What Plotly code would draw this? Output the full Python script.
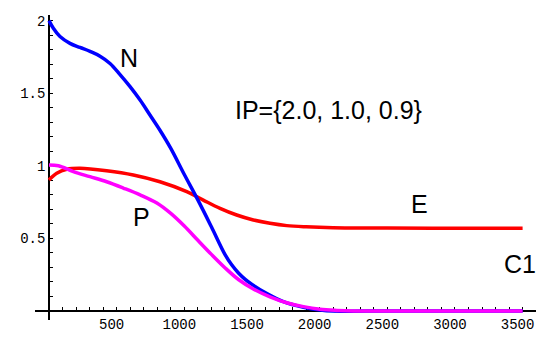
import plotly.graph_objects as go

# ---- data ----
x_N = [0, 32, 81, 155, 229, 303, 377, 451, 525, 599, 673, 746, 820, 900, 1000, 1100, 1200, 1300, 1350, 1400, 1450, 1500, 1600, 1732, 1880, 2003, 2100, 2500, 3000, 3500]
N_vals = [2.0, 1.947, 1.89, 1.843, 1.815, 1.788, 1.755, 1.705, 1.628, 1.545, 1.453, 1.35, 1.245, 1.12, 0.94, 0.765, 0.58, 0.39, 0.318, 0.262, 0.218, 0.183, 0.125, 0.064, 0.025, 0.007, 0.0, 0.0, 0.0, 0.0]

x_P = [0, 70, 180, 303, 426, 549, 673, 800, 900, 1000, 1100, 1200, 1300, 1400, 1510, 1633, 1757, 1880, 2003, 2126, 2250, 2500, 3000, 3500]
P_vals = [1.006, 1.0, 0.96, 0.925, 0.89, 0.847, 0.80, 0.742, 0.672, 0.585, 0.487, 0.39, 0.298, 0.217, 0.152, 0.098, 0.057, 0.03, 0.012, 0.004, 0.0, 0.0, 0.0, 0.0]

x_E = [0, 57, 131, 229, 426, 623, 820, 1018, 1140, 1264, 1387, 1510, 1633, 1757, 1900, 2100, 2500, 3000, 3500]
E_vals = [0.902, 0.948, 0.976, 0.983, 0.966, 0.937, 0.89, 0.822, 0.764, 0.707, 0.661, 0.627, 0.604, 0.588, 0.58, 0.574, 0.571, 0.57, 0.57]

x_tick_vals = [500, 1000, 1500, 2000, 2500, 3000, 3500]
x_tick_text = ["500", "1000", "1500", "2000", "2500", "3000", "3500"]
y_tick_vals = [0.5, 1.0, 1.5, 2.0]
y_tick_text = ["0.5", "1", "1.5", "2"]
x_minor = list(range(100, 3600, 100))
y_minor = [round(0.1 * i, 1) for i in range(1, 21)]

labels = ["N", "IP={2.0, 1.0, 0.9}", "P", "E", "C1"]
label_x = [593, 2069, 680, 2735, 3481]
label_y = [1.745, 1.384, 0.645, 0.737, 0.324]

fig = go.Figure()
line_common = dict(width=3.5, shape="spline", smoothing=1.0)
fig.add_trace(go.Scatter(x=x_E, y=E_vals, mode="lines", line=dict(color="#ff0000", **line_common)))
fig.add_trace(go.Scatter(x=x_N, y=N_vals, mode="lines", line=dict(color="#0000ff", **line_common)))
fig.add_trace(go.Scatter(x=x_P, y=P_vals, mode="lines", line=dict(color="#ff00ff", **line_common)))

for t, xv, yv in zip(labels, label_x, label_y):
    fig.add_annotation(x=xv, y=yv, text=t, showarrow=False,
                       font=dict(family="Liberation Sans", size=25, color="black"))

tickfont = dict(family="Liberation Mono", size=14, color="black")

fig.update_layout(
    width=536, height=338,
    margin=dict(l=35, r=0, t=15, b=18, autoexpand=False),
    paper_bgcolor="white", plot_bgcolor="white",
    showlegend=False,
    xaxis=dict(range=[-103.5, 3599], showgrid=False, zeroline=False, automargin=False,
               showline=True, linecolor="black", linewidth=1.5,
               anchor="free", position=0.0295, layer="below traces",
               tickmode="array", tickvals=x_tick_vals, ticktext=x_tick_text,
               ticks="inside", ticklen=3, tickcolor="black", tickwidth=1,
               tickfont=tickfont, ticklabelshift=-5, ticklabeloverflow="allow",
               minor=dict(tickmode="array", tickvals=x_minor, ticks="inside", ticklen=3, tickcolor="black", tickwidth=1)),
    yaxis=dict(range=[-0.062, 2.0386], showgrid=False, zeroline=False, automargin=False,
               showline=True, linecolor="black", linewidth=1.5,
               anchor="free", position=0.0279, layer="below traces",
               tickmode="array", tickvals=y_tick_vals, ticktext=y_tick_text,
               ticks="inside", ticklen=3, tickcolor="black", tickwidth=1,
               tickfont=tickfont,
               minor=dict(tickmode="array", tickvals=y_minor, ticks="inside", ticklen=3, tickcolor="black", tickwidth=1)),
)

fig.write_html("out.html", config={"displayModeBar": False},
               post_script="document.body.style.margin='0px';")
